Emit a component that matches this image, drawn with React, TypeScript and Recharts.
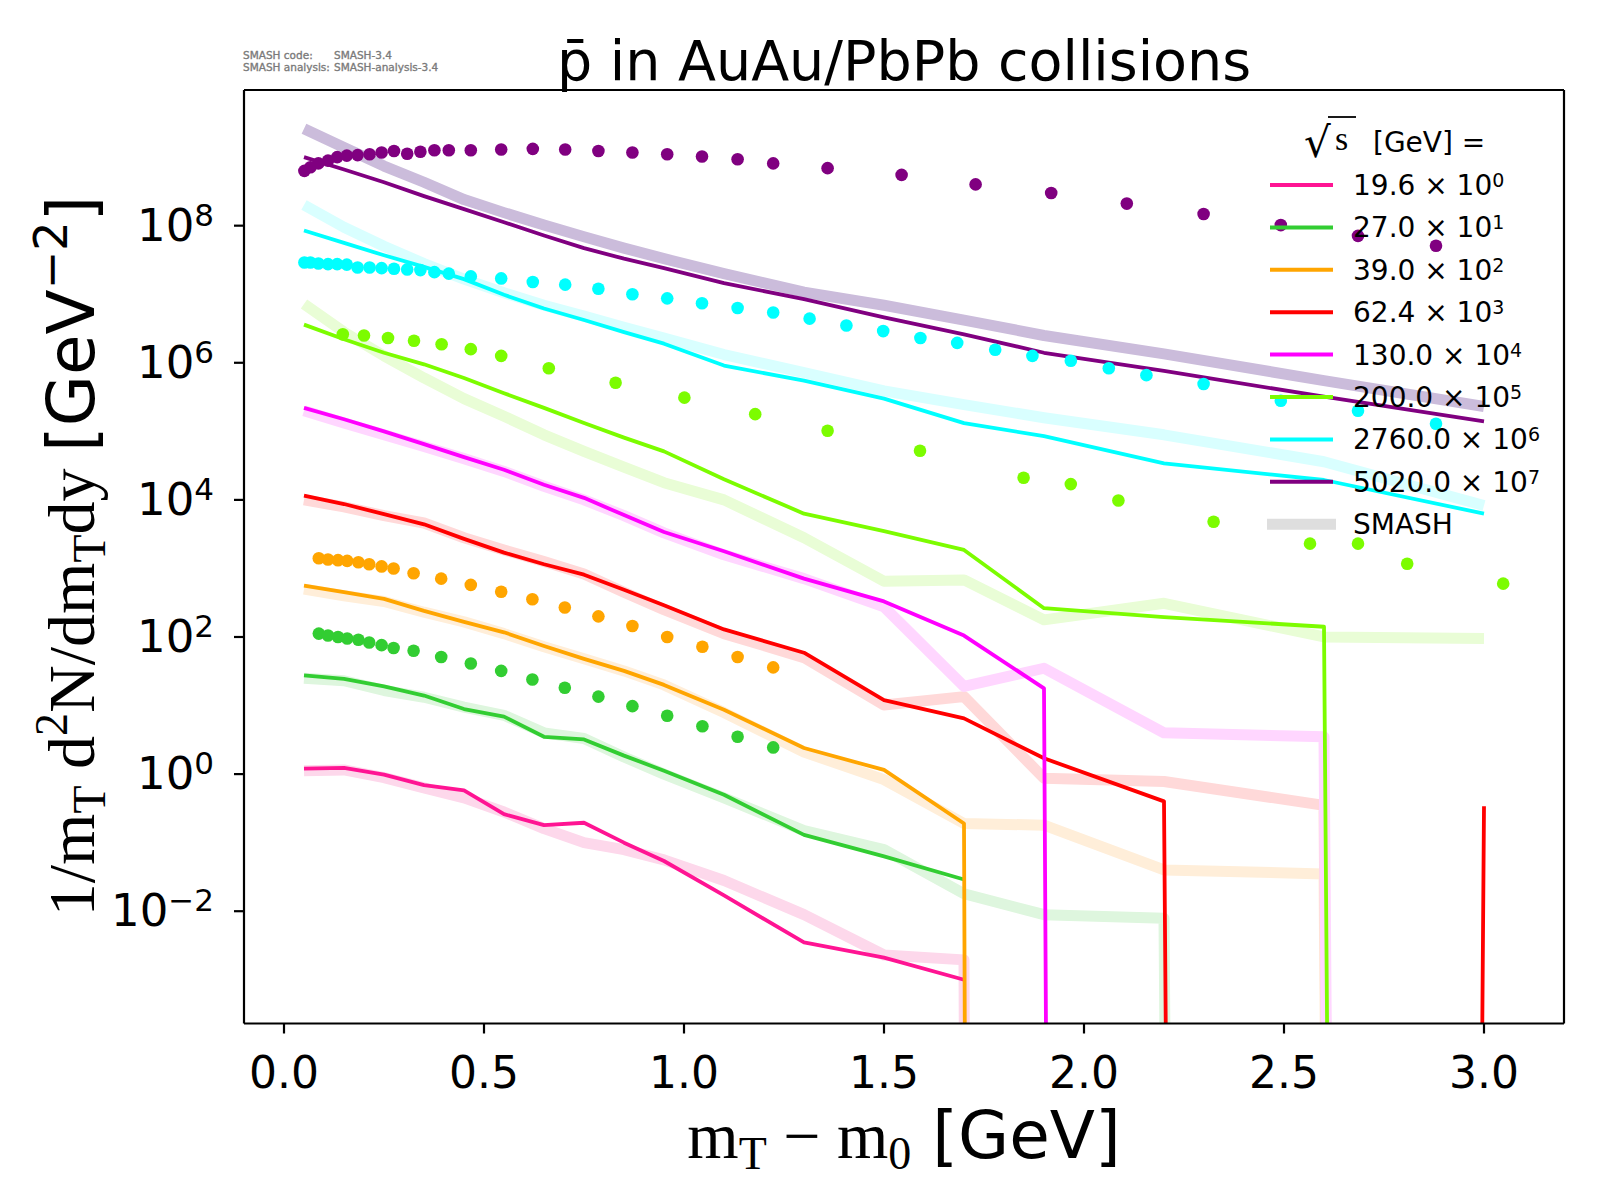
import React from 'react';
import { ComposedChart, Line, Scatter, XAxis, YAxis } from 'recharts';

// a zero yield (drawn by matplotlib as a drop to the bottom of the log axis)
const ZERO = 1e-300;

// ---- binning of the model curves (mT - m0, GeV)
const X_BINS = [0.05, 0.15, 0.25, 0.35, 0.45, 0.55, 0.65, 0.75, 0.85, 0.95, 1.1, 1.3, 1.5, 1.7, 1.9, 2.2, 2.6, 3.0];

// ---- solid curves, one per energy (already scaled by 10^k)
const LINE_19_6 = [1.2, 1.23, 0.98, 0.69, 0.58, 0.26, 0.18, 0.195, 0.1, 0.054, 0.017, 0.0035, 0.0021, 0.001, null, null, null, null];
const LINE_27 = [27.5, 24.5, 19, 14, 8.9, 6.9, 3.5, 3.2, 1.86, 1.12, 0.5, 0.13, 0.063, 0.029, null, null, null, null];
const LINE_39 = [560, 450, 360, 240, 166, 117, 74, 48, 32, 20, 8.7, 2.4, 1.15, 0.19, ZERO, null, null, null];
const LINE_62_4 = [1.15e4, 8.7e3, 6.2e3, 4.4e3, 2.7e3, 1.7e3, 1.15e3, 810, 490, 290, 129, 59, 12, 6.5, 1.7, 0.4, ZERO, 0.34];
const LINE_130 = [2.2e5, 1.5e5, 1.0e5, 6.5e4, 4.2e4, 2.75e4, 1.66e4, 1.07e4, 6.0e3, 3.4e3, 1.78e3, 710, 330, 105, 17.8, ZERO, null, null];
const LINE_200 = [3.6e6, 2.2e6, 1.4e6, 9.5e5, 6.0e5, 3.6e5, 2.2e5, 1.32e5, 8.1e4, 5.1e4, 2.0e4, 6.3e3, 3.5e3, 1.86e3, 263, 195, 141, ZERO];
const LINE_2760 = [8.5e7, 5.6e7, 3.7e7, 2.5e7, 1.66e7, 9.8e6, 6.2e6, 4.2e6, 2.8e6, 1.9e6, 9.1e5, 5.5e5, 3.0e5, 1.32e5, 8.5e4, 3.4e4, 1.95e4, 6.3e3];
const LINE_5020 = [1.0e9, 6.6e8, 4.3e8, 2.7e8, 1.74e8, 1.12e8, 7.2e7, 4.7e7, 3.3e7, 2.4e7, 1.45e7, 8.5e6, 4.6e6, 2.6e6, 1.4e6, 7.6e5, 3.2e5, 1.4e5];

// ---- SMASH reference bands
const SMASH_19_6 = [1.12, 1.15, 0.89, 0.63, 0.45, 0.28, 0.16, 0.1, 0.079, 0.056, 0.028, 0.0089, 0.0023, 0.00195, ZERO, null, null, null];
const SMASH_27 = [25, 23, 16.6, 13.2, 9.5, 7.2, 4.0, 3.3, 1.78, 1.0, 0.45, 0.15, 0.079, 0.018, 0.0089, 0.0079, ZERO, null];
const SMASH_39 = [500, 400, 330, 230, 166, 112, 72, 48, 32, 20, 7.9, 2.1, 0.83, 0.19, 0.18, 0.04, 0.035, ZERO];
const SMASH_62_4 = [1.0e4, 7.9e3, 5.9e3, 4.6e3, 2.8e3, 1.86e3, 1.26e3, 830, 450, 250, 112, 50, 10.2, 13.5, 0.87, 0.78, 0.35, ZERO];
const SMASH_130 = [2.0e5, 1.32e5, 8.9e4, 6.0e4, 4.0e4, 2.6e4, 1.58e4, 1.0e4, 5.9e3, 3.3e3, 1.58e3, 710, 275, 19, 35, 4.0, 3.5, ZERO];
const SMASH_200 = [7.2e6, 2.8e6, 1.26e6, 6.0e5, 3.0e5, 1.66e5, 8.9e4, 5.1e4, 3.0e4, 1.78e4, 1.0e4, 2.8e3, 650, 680, 178, 310, 100, 95];
const SMASH_2760 = [2.0e8, 9.5e7, 5.0e7, 2.8e7, 1.66e7, 1.05e7, 6.9e6, 4.8e6, 3.3e6, 2.3e6, 1.32e6, 7.2e5, 3.9e5, 2.45e5, 1.58e5, 8.9e4, 3.6e4, 8.3e3];
const SMASH_5020 = [2.6e9, 1.38e9, 7.4e8, 4.3e8, 2.4e8, 1.55e8, 1.02e8, 6.9e7, 4.7e7, 3.3e7, 2.0e7, 1.07e7, 6.9e6, 4.2e6, 2.5e6, 1.35e6, 5.5e5, 2.3e5];

// ---- measured points
const DATA_X_LOW = [0.087, 0.110, 0.135, 0.158, 0.186, 0.213, 0.244, 0.274, 0.324, 0.393, 0.467, 0.543, 0.621, 0.702, 0.786, 0.871, 0.958, 1.046, 1.134, 1.223];
const DATA_27 = [112, 105, 100, 95, 91, 83, 76, 69, 63, 51, 41, 32, 24, 18.2, 13.5, 9.8, 7.1, 5.0, 3.5, 2.45];
const DATA_39 = [1410, 1350, 1320, 1290, 1230, 1150, 1070, 1000, 850, 710, 575, 457, 355, 269, 200, 145, 100, 72, 51, 36];

const DATA_X_200 = [0.147, 0.200, 0.260, 0.325, 0.394, 0.467, 0.543, 0.662, 0.829, 1.001, 1.178, 1.359, 1.590, 1.849, 1.967, 2.086, 2.324, 2.565, 2.685, 2.808, 3.048];
const DATA_200 = [2.6e6, 2.5e6, 2.3e6, 2.1e6, 1.86e6, 1.58e6, 1.26e6, 8.3e5, 5.1e5, 3.1e5, 1.78e5, 1.02e5, 5.2e4, 2.1e4, 1.7e4, 9.8e3, 4.8e3, 2.3e3, 2.3e3, 1.17e3, 600];

const DATA_X_2760 = [0.051, 0.066, 0.086, 0.110, 0.133, 0.157, 0.184, 0.214, 0.244, 0.275, 0.308, 0.341, 0.376, 0.412, 0.467, 0.543, 0.622, 0.703, 0.786, 0.871, 0.958, 1.045, 1.134, 1.223, 1.314, 1.406, 1.498, 1.591, 1.683, 1.778, 1.871, 1.967, 2.062, 2.156, 2.299, 2.492, 2.685, 2.880];
const DATA_2760 = [2.9e7, 2.9e7, 2.8e7, 2.75e7, 2.75e7, 2.7e7, 2.45e7, 2.45e7, 2.4e7, 2.35e7, 2.3e7, 2.25e7, 2.1e7, 2.0e7, 1.82e7, 1.7e7, 1.51e7, 1.38e7, 1.2e7, 1.0e7, 8.7e6, 7.4e6, 6.3e6, 5.4e6, 4.4e6, 3.5e6, 2.9e6, 2.3e6, 1.95e6, 1.55e6, 1.26e6, 1.07e6, 8.3e5, 6.6e5, 4.9e5, 2.8e5, 2.0e5, 1.29e5];

const DATA_X_5020 = [0.051, 0.066, 0.086, 0.110, 0.133, 0.157, 0.184, 0.214, 0.244, 0.275, 0.308, 0.341, 0.376, 0.412, 0.467, 0.543, 0.622, 0.703, 0.786, 0.871, 0.958, 1.045, 1.134, 1.223, 1.359, 1.544, 1.729, 1.918, 2.107, 2.299, 2.492, 2.685, 2.880];
const DATA_5020 = [6.3e8, 7.1e8, 8.1e8, 8.9e8, 1.0e9, 1.05e9, 1.07e9, 1.1e9, 1.17e9, 1.23e9, 1.12e9, 1.2e9, 1.26e9, 1.26e9, 1.26e9, 1.29e9, 1.32e9, 1.29e9, 1.23e9, 1.17e9, 1.1e9, 1.02e9, 9.3e8, 8.1e8, 6.9e8, 5.5e8, 4.0e8, 3.0e8, 2.1e8, 1.48e8, 1.02e8, 7.1e7, 5.1e7];

// ---- labels / ticks
const ENERGY_LABELS = ['19.6', '27.0', '39.0', '62.4', '130.0', '200.0', '2760.0', '5020.0'];
const SCALE_EXPONENTS = ['0', '1', '2', '3', '4', '5', '6', '7'];
const X_TICKS = [0, 0.5, 1, 1.5, 2, 2.5, 3];
const X_TICK_LABELS = ['0.0', '0.5', '1.0', '1.5', '2.0', '2.5', '3.0'];
const Y_TICKS = [1e-2, 1e0, 1e2, 1e4, 1e6, 1e8];
const Y_TICK_EXPONENTS = ['\u22122', '0', '2', '4', '6', '8'];

// ---- styles
const LINE_COLORS = ['#ff1493', '#32cd32', '#ffa500', '#ff0000', '#ff00ff', '#7cfc00', '#00ffff', '#800080'];
const SMASH_COLORS = ['#fdd8eb', '#def6de', '#ffeed9', '#ffd9d9', '#ffd6ff', '#e9fdd6', '#d9ffff', '#cbbcdb'];

const LINES = [LINE_19_6, LINE_27, LINE_39, LINE_62_4, LINE_130, LINE_200, LINE_2760, LINE_5020];
const SMASH = [SMASH_19_6, SMASH_27, SMASH_39, SMASH_62_4, SMASH_130, SMASH_200, SMASH_2760, SMASH_5020];
const DATASETS = [
  { xs: DATA_X_LOW, ys: DATA_27, c: 1 },
  { xs: DATA_X_LOW, ys: DATA_39, c: 2 },
  { xs: DATA_X_200, ys: DATA_200, c: 5 },
  { xs: DATA_X_2760, ys: DATA_2760, c: 6 },
  { xs: DATA_X_5020, ys: DATA_5020, c: 7 },
];

const rows = (xs: number[], ys: (number | null)[]) => xs.map((x, i) => ({ x, y: ys[i] }));

const SANS = 'DejaVu Sans';
const SERIF = 'Liberation Serif';

const XTick = (p: any) => {
  const i = X_TICKS.indexOf(p.payload.value);
  return (
    <text x={p.x} y={p.y + 54} textAnchor="middle" fontFamily={SANS} fontSize={44} fill="#000">
      {X_TICK_LABELS[i]}
    </text>
  );
};

const YTick = (p: any) => {
  const i = Y_TICKS.findIndex((t) => Math.abs(t - p.payload.value) / t < 1e-6);
  return (
    <text x={p.x - 20} y={p.y + 15} textAnchor="end" fontFamily={SANS} fontSize={45} fill="#000">
      <tspan>10</tspan>
      <tspan fontSize={31} dy={-15}>{Y_TICK_EXPONENTS[i]}</tspan>
    </text>
  );
};

const Dot = (color: string) => (p: any) => <circle cx={p.cx} cy={p.cy} r={6.3} fill={color} />;

const LEG_X = 1270;
const LEG_Y0 = 185;
const LEG_DY = 42.4;

export default function App() {
  return (
    <div style={{ position: 'absolute', left: 0, top: 0, width: 1600, height: 1200, background: '#fff' }}>
      <ComposedChart width={1600} height={1200} margin={{ top: 89, right: 0, bottom: 116.5, left: 0 }}>
        <XAxis
          dataKey="x"
          type="number"
          domain={[-0.1, 3.2]}
          allowDataOverflow
          ticks={X_TICKS}
          interval={0}
          height={60}
          tickSize={10}
          tickMargin={0}
          axisLine={{ stroke: '#000', strokeWidth: 2.2 }}
          tickLine={{ stroke: '#000', strokeWidth: 2.2 }}
          tick={XTick}
        />
        <XAxis xAxisId="top" orientation="top" type="number" domain={[0, 1]} height={1} tick={false} tickLine={false} axisLine={{ stroke: '#000', strokeWidth: 2.2 }} />
        <YAxis
          type="number"
          scale="log"
          domain={[10 ** -3.638, 10 ** 9.979]}
          allowDataOverflow
          ticks={Y_TICKS}
          interval={0}
          width={244}
          tickSize={10}
          tickMargin={0}
          axisLine={{ stroke: '#000', strokeWidth: 2.2 }}
          tickLine={{ stroke: '#000', strokeWidth: 2.2 }}
          tick={YTick}
        />
        <YAxis yAxisId="right" orientation="right" type="number" domain={[0, 1]} width={36} tick={false} tickLine={false} axisLine={{ stroke: '#000', strokeWidth: 2.2 }} />

        {SMASH.map((ys, i) => (
          <Line
            key={'s' + i}
            data={rows(X_BINS, ys)}
            dataKey="y"
            type="linear"
            stroke={SMASH_COLORS[i]}
            strokeWidth={11}
            strokeLinecap="butt"
            strokeLinejoin="round"
            dot={false}
            activeDot={false}
            isAnimationActive={false}
          />
        ))}
        {LINES.map((ys, i) => (
          <Line
            key={'l' + i}
            data={rows(X_BINS, ys)}
            dataKey="y"
            type="linear"
            stroke={LINE_COLORS[i]}
            strokeWidth={3.8}
            strokeLinejoin="round"
            dot={false}
            activeDot={false}
            isAnimationActive={false}
          />
        ))}
        {DATASETS.map((d, i) => (
          <Scatter
            key={'d' + i}
            data={rows(d.xs, d.ys)}
            dataKey="y"
            fill={LINE_COLORS[d.c]}
            shape={Dot(LINE_COLORS[d.c])}
            isAnimationActive={false}
          />
        ))}
      </ComposedChart>

      <svg width={1600} height={1200} style={{ position: 'absolute', left: 0, top: 0, pointerEvents: 'none' }}>
        {/* version stamp */}
        <g fontFamily={SANS} fontSize={10.5} fill="#7a7a7a" stroke="#7a7a7a" strokeWidth={0.35}>
          <text x={243} y={59}>SMASH code:</text>
          <text x={334} y={59}>SMASH-3.4</text>
          <text x={243} y={71}>SMASH analysis:</text>
          <text x={334} y={71}>SMASH-analysis-3.4</text>
        </g>

        {/* title */}
        <text x={904} y={80} textAnchor="middle" fontFamily={SANS} fontSize={55.5} fill="#000">
          {'p\u0304 in AuAu/PbPb collisions'}
        </text>

        {/* x label */}
        <text x={904} y={1158} textAnchor="middle" fontSize={66} fill="#000">
          <tspan fontFamily={SERIF}>m</tspan>
          <tspan fontFamily={SERIF} fontSize={46} dy={11}>T</tspan>
          <tspan fontFamily={SERIF} dy={-11}>{' \u2212 m'}</tspan>
          <tspan fontFamily={SERIF} fontSize={46} dy={11}>0</tspan>
          <tspan fontFamily={SANS} dy={-11}>{' [GeV]'}</tspan>
        </text>

        {/* y label */}
        <text transform="translate(94,556) rotate(-90)" textAnchor="middle" fontSize={66} fill="#000">
          <tspan fontFamily={SERIF}>1/m</tspan>
          <tspan fontFamily={SERIF} fontSize={46} dy={11}>T</tspan>
          <tspan fontFamily={SERIF} dy={-11}>{' d'}</tspan>
          <tspan fontFamily={SERIF} fontSize={46} dy={-27}>2</tspan>
          <tspan fontFamily={SERIF} dy={27}>N/dm</tspan>
          <tspan fontFamily={SERIF} fontSize={46} dy={11}>T</tspan>
          <tspan fontFamily={SERIF} dy={-11}>{'dy '}</tspan>
          <tspan fontFamily={SANS}>[GeV</tspan>
          <tspan fontFamily={SANS} fontSize={46} dy={-27}>{'\u22122'}</tspan>
          <tspan fontFamily={SANS} dy={27}>]</tspan>
        </text>

        {/* legend */}
        <g>
          <text x={1304} y={157} fontFamily={SANS} fontSize={42} fill="#000">{'\u221A'}</text>
          <line x1={1328} y1={117} x2={1356} y2={117} stroke="#000" strokeWidth={1.8} />
          <text x={1335} y={150} fontFamily={SERIF} fontSize={34} fill="#000">s</text>
          <text x={1373} y={152} fontFamily={SANS} fontSize={28} fill="#000">[GeV] =</text>
          {ENERGY_LABELS.map((lab, i) => {
            const y = LEG_Y0 + i * LEG_DY;
            return (
              <g key={lab}>
                <line x1={LEG_X} y1={y} x2={LEG_X + 63} y2={y} stroke={LINE_COLORS[i]} strokeWidth={4} />
                <text x={1353} y={y + 10} fontFamily={SANS} fontSize={28} fill="#000">
                  <tspan>{lab + ' \u00D7 10'}</tspan>
                  <tspan fontSize={19} dy={-8}>{SCALE_EXPONENTS[i]}</tspan>
                </text>
              </g>
            );
          })}
          <line x1={1267} y1={LEG_Y0 + 8 * LEG_DY} x2={1336} y2={LEG_Y0 + 8 * LEG_DY} stroke="#dedede" strokeWidth={11} />
          <text x={1353} y={LEG_Y0 + 8 * LEG_DY + 10} fontFamily={SANS} fontSize={28} fill="#000">SMASH</text>
        </g>
      </svg>
    </div>
  );
}
